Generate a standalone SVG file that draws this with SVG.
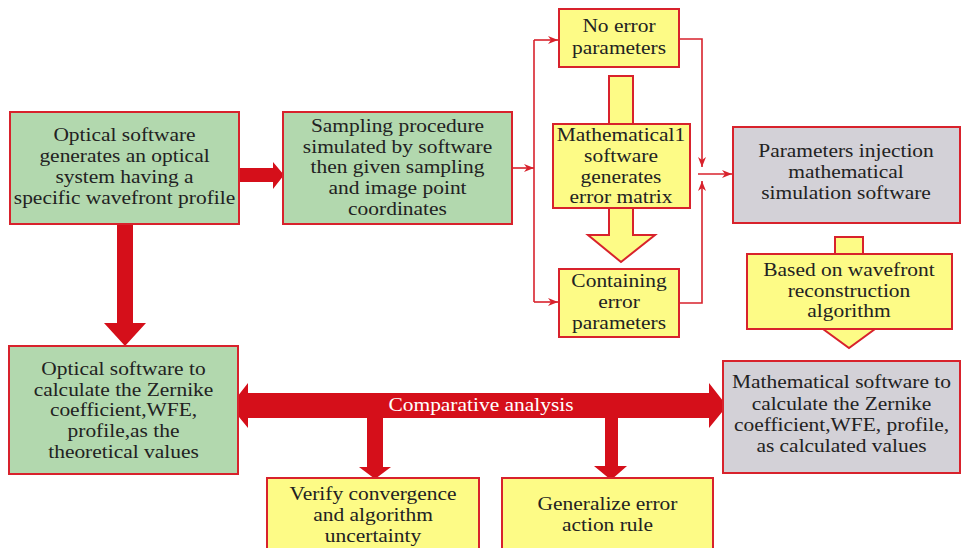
<svg xmlns="http://www.w3.org/2000/svg" width="961" height="548" viewBox="0 0 961 548">
<defs>
<style>
.g{fill:#b2d8ae;stroke:#d8222c;stroke-width:2}
.y{fill:#fdfb86;stroke:#d8222c;stroke-width:2}
.s{fill:#d3d1d7;stroke:#d8222c;stroke-width:2}
.ya{fill:#fdfb86;stroke:#d8222c;stroke-width:2;stroke-linejoin:miter}
.ra{fill:#d50f1a;stroke:none}
.t{font-family:"Liberation Serif","Times New Roman",serif;font-size:19.5px;fill:#222;text-anchor:middle}
.w{font-family:"Liberation Serif","Times New Roman",serif;font-size:19.5px;fill:#fff;text-anchor:middle}
.c{fill:none;stroke:#d8222c;stroke-width:1.6}
</style>
<marker id="ah" markerWidth="10" markerHeight="8" refX="10" refY="4" orient="auto" markerUnits="userSpaceOnUse">
<path d="M0,0 L10,4 L0,8 L3,4 Z" fill="#d8222c"/>
</marker>
</defs>
<rect width="961" height="548" fill="#fff"/>

<g id="connectors">
<polygon class="ra" points="239,168 273,168 273,162 284,175 273,189 273,182 239,182"/>
<polygon class="ra" points="117,224 133,224 133,323 146,323 125,346 104,323 117,323"/>
<polygon class="ra" points="230,406 248,383 248,393 709,393 709,383 727,406 709,428 709,418 248,418 248,428"/>
<polygon class="ra" points="367,418 383,418 383,467 391,467 375,479 359,467 367,467"/>
<polygon class="ra" points="605,418 618,418 618,466 627,466 611,480 594,466 605,466"/>
<polyline class="c" points="512,168 534,168" marker-end="url(#ah)"/>
<polyline class="c" points="534,40 534,302"/>
<polyline class="c" points="534,40 558,40" marker-end="url(#ah)"/>
<polyline class="c" points="534,302 558,302" marker-end="url(#ah)"/>
<polyline class="c" points="679,39 702,39 702,167" marker-end="url(#ah)"/>
<polyline class="c" points="679,303 702,303 702,181" marker-end="url(#ah)"/>
<polyline class="c" points="698,174 732,174" marker-end="url(#ah)"/>
<g transform="translate(481,0) scale(1.1,1)"><text class="w" x="0" y="411">Comparative analysis</text></g>
</g>

<g id="n1">
<rect class="g" x="10" y="112" width="229" height="112"/>
<g transform="translate(124.5,0) scale(1.1,1)">
<text class="t" x="0" y="141">Optical software</text>
<text class="t" x="0" y="162">generates an optical</text>
<text class="t" x="0" y="183">system having a</text>
<text class="t" x="0" y="204">specific wavefront profile</text>
</g>
</g>

<g id="n2">
<rect class="g" x="283" y="112" width="229" height="112"/>
<g transform="translate(397.5,0) scale(1.1,1)">
<text class="t" x="0" y="132">Sampling procedure</text>
<text class="t" x="0" y="153">simulated by software</text>
<text class="t" x="0" y="173">then given sampling</text>
<text class="t" x="0" y="194">and image point</text>
<text class="t" x="0" y="215">coordinates</text>
</g>
</g>

<g id="n3">
<rect class="y" x="559" y="9" width="120" height="58"/>
<g transform="translate(619,0) scale(1.1,1)">
<text class="t" x="0" y="32">No error</text>
<text class="t" x="0" y="54">parameters</text>
</g>
</g>

<g id="n4">
<polygon class="ya" points="609,76 633,76 633,235 655,235 621,262 588,235 609,235"/>
<rect class="y" x="553" y="124" width="137" height="84"/>
<g transform="translate(621,0) scale(1.1,1)">
<text class="t" x="0" y="141">Mathematical1</text>
<text class="t" x="0" y="162">software</text>
<text class="t" x="0" y="183">generates</text>
<text class="t" x="0" y="203">error matrix</text>
</g>
</g>

<g id="n5">
<rect class="y" x="559" y="269" width="120" height="68"/>
<g transform="translate(619,0) scale(1.1,1)">
<text class="t" x="0" y="287">Containing</text>
<text class="t" x="0" y="308">error</text>
<text class="t" x="0" y="329">parameters</text>
</g>
</g>

<g id="n6">
<rect class="s" x="733" y="127" width="227" height="96"/>
<g transform="translate(846,0) scale(1.1,1)">
<text class="t" x="0" y="157">Parameters injection</text>
<text class="t" x="0" y="178">mathematical</text>
<text class="t" x="0" y="199">simulation software</text>
</g>
</g>

<g id="n7">
<polygon class="ya" points="835,237 863,237 863,329 875,329 849,348 823,329 835,329"/>
<rect class="y" x="747" y="254" width="205" height="75"/>
<g transform="translate(849,0) scale(1.1,1)">
<text class="t" x="0" y="276">Based on wavefront</text>
<text class="t" x="0" y="297">reconstruction</text>
<text class="t" x="0" y="317">algorithm</text>
</g>
</g>

<g id="n8">
<rect class="g" x="9" y="346" width="229" height="128"/>
<g transform="translate(123.5,0) scale(1.1,1)">
<text class="t" x="0" y="375">Optical software to</text>
<text class="t" x="0" y="396">calculate the Zernike</text>
<text class="t" x="0" y="416">coefficient,WFE,</text>
<text class="t" x="0" y="437">profile,as the</text>
<text class="t" x="0" y="458">theoretical values</text>
</g>
</g>

<g id="n9">
<rect class="s" x="723" y="361" width="237" height="112"/>
<g transform="translate(841.5,0) scale(1.1,1)">
<text class="t" x="0" y="388">Mathematical software to</text>
<text class="t" x="0" y="410">calculate the Zernike</text>
<text class="t" x="0" y="431">coefficient,WFE, profile,</text>
<text class="t" x="0" y="452">as calculated values</text>
</g>
</g>

<g id="n10">
<rect class="y" x="267" y="478" width="212" height="80"/>
<g transform="translate(373,0) scale(1.1,1)">
<text class="t" x="0" y="500">Verify convergence</text>
<text class="t" x="0" y="521">and algorithm</text>
<text class="t" x="0" y="542">uncertainty</text>
</g>
</g>

<g id="n11">
<rect class="y" x="502" y="478" width="211" height="80"/>
<g transform="translate(607.5,0) scale(1.1,1)">
<text class="t" x="0" y="510">Generalize error</text>
<text class="t" x="0" y="531">action rule</text>
</g>
</g>
</svg>
